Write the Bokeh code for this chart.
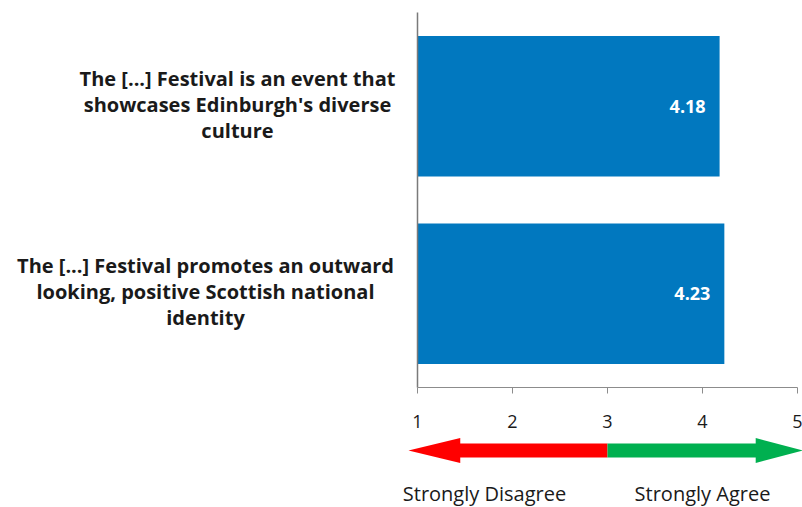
from bokeh.plotting import figure
from bokeh.models import Range1d, ColumnDataSource
from bokeh.core.properties import value
from bokeh.embed import file_html
from bokeh.resources import INLINE

# ---- data ----
categories = [
    "The [...] Festival is an event that\nshowcases Edinburgh's diverse\nculture",
    "The [...] Festival promotes an outward\nlooking, positive Scottish national\nidentity",
]
scores = [4.18, 4.23]
score_labels = ["4.18", "4.23"]
x_ticks = [1, 2, 3, 4, 5]
tick_labels = ["1", "2", "3", "4", "5"]
scale_labels = ["Strongly Disagree", "Strongly Agree"]

# ---- layout constants (pixels) ----
W, H = 802, 507
AX_L, AX_R = 417, 797          # pixel of x=1 and x=5
ROW0_PX, BAND_PX = 105.75, 187.5  # centre of first row, row spacing
FONT = "Open Sans"

ppu = (AX_R - AX_L) / (x_ticks[-1] - x_ticks[0])
x_start = x_ticks[0] - AX_L / ppu
x_end = x_ticks[-1] + (W - AX_R) / ppu


def ypx(py):
    return (py - ROW0_PX) / BAND_PX


p = figure(width=W, height=H, output_backend="svg", toolbar_location=None,
           x_range=Range1d(x_start, x_end), y_range=Range1d(ypx(H), ypx(0)),
           min_border=0)
p.outline_line_color = None
p.grid.visible = False
p.axis.visible = False

n = len(categories)
rows = list(range(n))
top_edge, bottom_edge = -0.5, n - 0.5

src = ColumnDataSource(dict(row=rows, cat=categories, score=scores, lab=score_labels))
p.hbar(y="row", left=x_ticks[0], right="score", height=0.75, source=src,
       fill_color="#0178BF", line_color=None)
p.text(x="score", y="row", text="lab", source=src, x_offset=-14,
       text_align="right", text_baseline="middle", text_color="white",
       text_font=value(FONT), text_font_style="bold", text_font_size="18px")

# category labels left of the value axis
p.text(x=[x_ticks[0]] * n, y=rows, text=categories, x_offset=[-180, -212], y_offset=-2,
       text_align="center", text_baseline="middle", text_color="#1a1a1a",
       text_font=value(FONT), text_font_style="bold", text_font_size="20px",
       text_line_height=0.965)

# axes
p.segment(x0=[x_ticks[0]], y0=[top_edge], x1=[x_ticks[0]], y1=[bottom_edge],
          line_color="#7a7a7a", line_width=1.5)
p.segment(x0=[x_ticks[0]], y0=[bottom_edge], x1=[x_ticks[-1]], y1=[bottom_edge],
          line_color="#8c8c8c", line_width=1)
tick_len = 6 / BAND_PX
p.segment(x0=x_ticks, y0=[bottom_edge] * len(x_ticks), x1=x_ticks,
          y1=[bottom_edge + tick_len] * len(x_ticks), line_color="#8c8c8c", line_width=1)
p.text(x=x_ticks, y=[bottom_edge] * len(x_ticks), text=tick_labels, y_offset=34,
       text_align="center", text_baseline="middle", text_color="#1a1a1a",
       text_font=value(FONT), text_font_size="18px")

# scale arrows
mid = x_ticks[2]
yc = ypx(450)
sh, hh = 7 / BAND_PX, 12.5 / BAND_PX
p.patch([0.905, 1.45, 1.45, mid, mid, 1.45, 1.45],
        [yc, yc - hh, yc - sh, yc - sh, yc + sh, yc + sh, yc + hh],
        fill_color="#FF0000", line_color=None)
p.patch([mid, 4.56, 4.56, 5.06, 4.56, 4.56, mid],
        [yc - sh, yc - sh, yc - hh, yc, yc + hh, yc + sh, yc + sh],
        fill_color="#00B050", line_color=None)
p.text(x=[1.705, 4.0], y=[ypx(493), ypx(493)], text=scale_labels, text_align="center",
       text_baseline="middle", text_font=value(FONT), text_font_size="20px",
       text_color="#1a1a1a")

open("out.html", "w").write(file_html(p, INLINE))
